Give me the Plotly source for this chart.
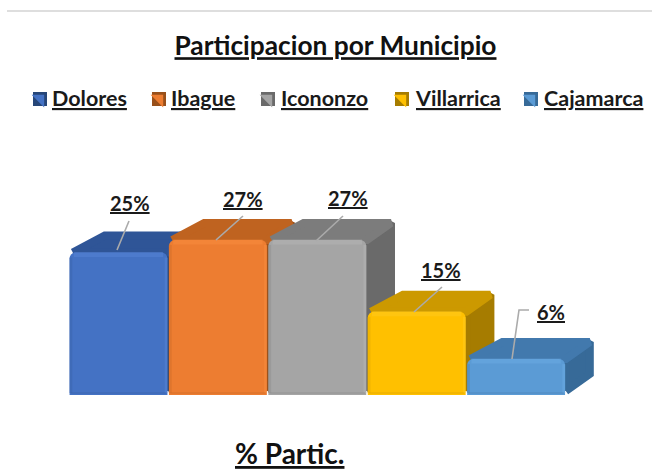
import plotly.graph_objects as go

# --- data ---
municipios = ["Dolores", "Ibague", "Iconon" "zo", "Villarrica", "Cajamarca"]
participacion = [25.0, 27.2, 27.2, 14.6, 6.3]

# --- styles ---
front_colors = ["#4472C4", "#ED7D31", "#A5A5A5", "#FFC000", "#5B9BD5"]
top_colors = ["#2F5597", "#BF6320", "#7C7C7C", "#CC9900", "#4279AD"]
side_colors = ["#264678", "#99501A", "#6A6A6A", "#A67C00", "#376A98"]
light_colors = ["#5F8DE0", "#FF9445", "#BDBDBD", "#FFD030", "#74B2EA"]
dark_edge = ["#3A62A8", "#CC6A28", "#8C8C8C", "#DDA500", "#4C84B8"]
swatch_dark = ["#264678", "#99501A", "#6A6A6A", "#A67C00", "#376A98"]
legend_swatch_px = [40, 159, 268, 402, 531]
legend_text_px = [50, 169, 279, 413, 542]
label_px = [(130, 203), (243, 199), (348, 198), (441, 270), (551, 312)]
leader_px = [
    [(117, 250), (129, 221)],
    [(216, 240), (243, 216)],
    [(316, 241), (343, 216)],
    [(414, 312), (442, 287)],
    [(512, 359), (519, 310), (529, 310)],
]

W, H = 652, 475
PX_X, PX_Y = 99.4, 5.7
X0_PX, Y0_PX = 118.5, 395
DEPTH_X, DEPTH_Y = 28 / PX_X, 21 / PX_Y
FONT = "Lato"


def px(x):
    return (x - X0_PX) / PX_X


def py(y):
    return (Y0_PX - y) / PX_Y


fig = go.Figure()

# depth faces (bottom layer), left to right so each bar overlaps the previous one
inset_x, inset_y = 4 / PX_X, 4 / PX_Y
for i, v in enumerate(participacion):
    l, r = i - 0.5 + inset_x, i + 0.5
    fig.add_trace(go.Scatter(
        x=[r, r + DEPTH_X - inset_x, r + DEPTH_X - inset_x, r, r],
        y=[inset_y, DEPTH_Y, v + DEPTH_Y - inset_y, v, inset_y],
        mode="lines", fill="toself", fillcolor=side_colors[i],
        line=dict(color=side_colors[i], width=8), hoverinfo="skip", showlegend=False))
    fig.add_trace(go.Scatter(
        x=[l, r, r + DEPTH_X - inset_x, l + DEPTH_X + inset_x, l],
        y=[v, v, v + DEPTH_Y - inset_y, v + DEPTH_Y - inset_y, v],
        mode="lines", fill="toself", fillcolor=top_colors[i],
        line=dict(color=top_colors[i], width=8), hoverinfo="skip", showlegend=False))

# front faces
fig.add_trace(go.Bar(
    x=list(range(len(municipios))), y=participacion, width=0.985,
    marker=dict(color=front_colors, line=dict(width=0), cornerradius=6),
    xaxis="x2", yaxis="y2", hoverinfo="skip", showlegend=False))

# bevels on the front faces
for i, v in enumerate(participacion):
    l, r = i - 0.5 + 2 / PX_X, i + 0.5 - 2 / PX_X
    b, t = 2 / PX_Y, v - 5 / PX_Y
    fig.add_trace(go.Scatter(x=[l + 3 / PX_X, r - 3 / PX_X], y=[t + 3 / PX_Y, t + 3 / PX_Y], mode="lines",
                             xaxis="x2", yaxis="y2",
                             line=dict(color=light_colors[i], width=5), opacity=0.35,
                             hoverinfo="skip", showlegend=False))
    fig.add_trace(go.Scatter(x=[r, r], y=[b, t], mode="lines", xaxis="x2", yaxis="y2",
                             line=dict(color=light_colors[i], width=3), opacity=0.35,
                             hoverinfo="skip", showlegend=False))
    fig.add_trace(go.Scatter(x=[l, l], y=[b, t], mode="lines", xaxis="x2", yaxis="y2",
                             line=dict(color=dark_edge[i], width=3), opacity=0.4,
                             hoverinfo="skip", showlegend=False))
    fig.add_trace(go.Scatter(x=[l, r], y=[b, b], mode="lines", xaxis="x2", yaxis="y2",
                             line=dict(color=dark_edge[i], width=2), opacity=0.35,
                             hoverinfo="skip", showlegend=False))

# leader lines
for pts in leader_px:
    fig.add_trace(go.Scatter(x=[px(p[0]) for p in pts], y=[py(p[1]) for p in pts],
                             mode="lines", xaxis="x2", yaxis="y2",
                             line=dict(color="#ABABAB", width=1.6),
                             hoverinfo="skip", showlegend=False))

# legend swatches
for i, name in enumerate(municipios):
    xs, ys = [px(legend_swatch_px[i])], [py(99)]
    fig.add_trace(go.Scatter(x=xs, y=ys, mode="markers", xaxis="x2", yaxis="y2", name=name,
                             marker=dict(symbol="square", size=14, color=swatch_dark[i], line=dict(width=0)),
                             hoverinfo="skip", showlegend=False))
    fig.add_trace(go.Scatter(x=xs, y=ys, mode="markers", xaxis="x2", yaxis="y2",
                             marker=dict(symbol="triangle-ne", size=14, color=front_colors[i], line=dict(width=0)),
                             hoverinfo="skip", showlegend=False))

annotations = []
for i, name in enumerate(municipios):
    annotations.append(dict(
        xref="paper", yref="paper", x=legend_text_px[i] / W, y=1 - 98 / H,
        xanchor="left", yanchor="middle", showarrow=False,
        text=f"<u>{name}</u>", font=dict(family=FONT, size=21.5, color="#1a1a1a", weight=700)))
for i, v in enumerate(participacion):
    annotations.append(dict(
        xref="paper", yref="paper", x=label_px[i][0] / W, y=1 - label_px[i][1] / H,
        xanchor="center", yanchor="middle", showarrow=False,
        text=f"<u>{round(v):d}%</u>", font=dict(family=FONT, size=20, color="#1a1a1a", weight=700)))
annotations.append(dict(
    xref="paper", yref="paper", x=289 / W, y=1 - 453 / H, xanchor="center", yanchor="middle",
    showarrow=False, text="<u>% Partic.</u>", font=dict(family=FONT, size=28, color="#111111", weight=700)))

x_range = [px(0), px(W)]
y_range = [py(H), py(0)]
axis = dict(visible=False, fixedrange=True)
fig.update_layout(
    width=W, height=H, margin=dict(l=0, r=0, t=0, b=0),
    paper_bgcolor="white", plot_bgcolor="white", showlegend=False,
    title=dict(text="<u>Participacion por Municipio</u>", x=335.5 / W, xanchor="center",
               y=1 - 46 / H, yanchor="middle",
               font=dict(family=FONT, size=26.3, color="#111111", weight=700)),
    xaxis=dict(range=x_range, **axis),
    yaxis=dict(range=y_range, **axis),
    xaxis2=dict(range=x_range, overlaying="x", **axis),
    yaxis2=dict(range=y_range, overlaying="y", **axis),
    annotations=annotations,
    shapes=[dict(type="line", xref="paper", yref="paper", x0=7 / W, x1=1,
                 y0=1 - 11 / H, y1=1 - 11 / H, line=dict(color="#DEDEDE", width=2))],
)
fig.write_html("out.html", config=dict(displayModeBar=False),
               post_script="document.body.style.margin='0';document.body.style.overflow='hidden';")
